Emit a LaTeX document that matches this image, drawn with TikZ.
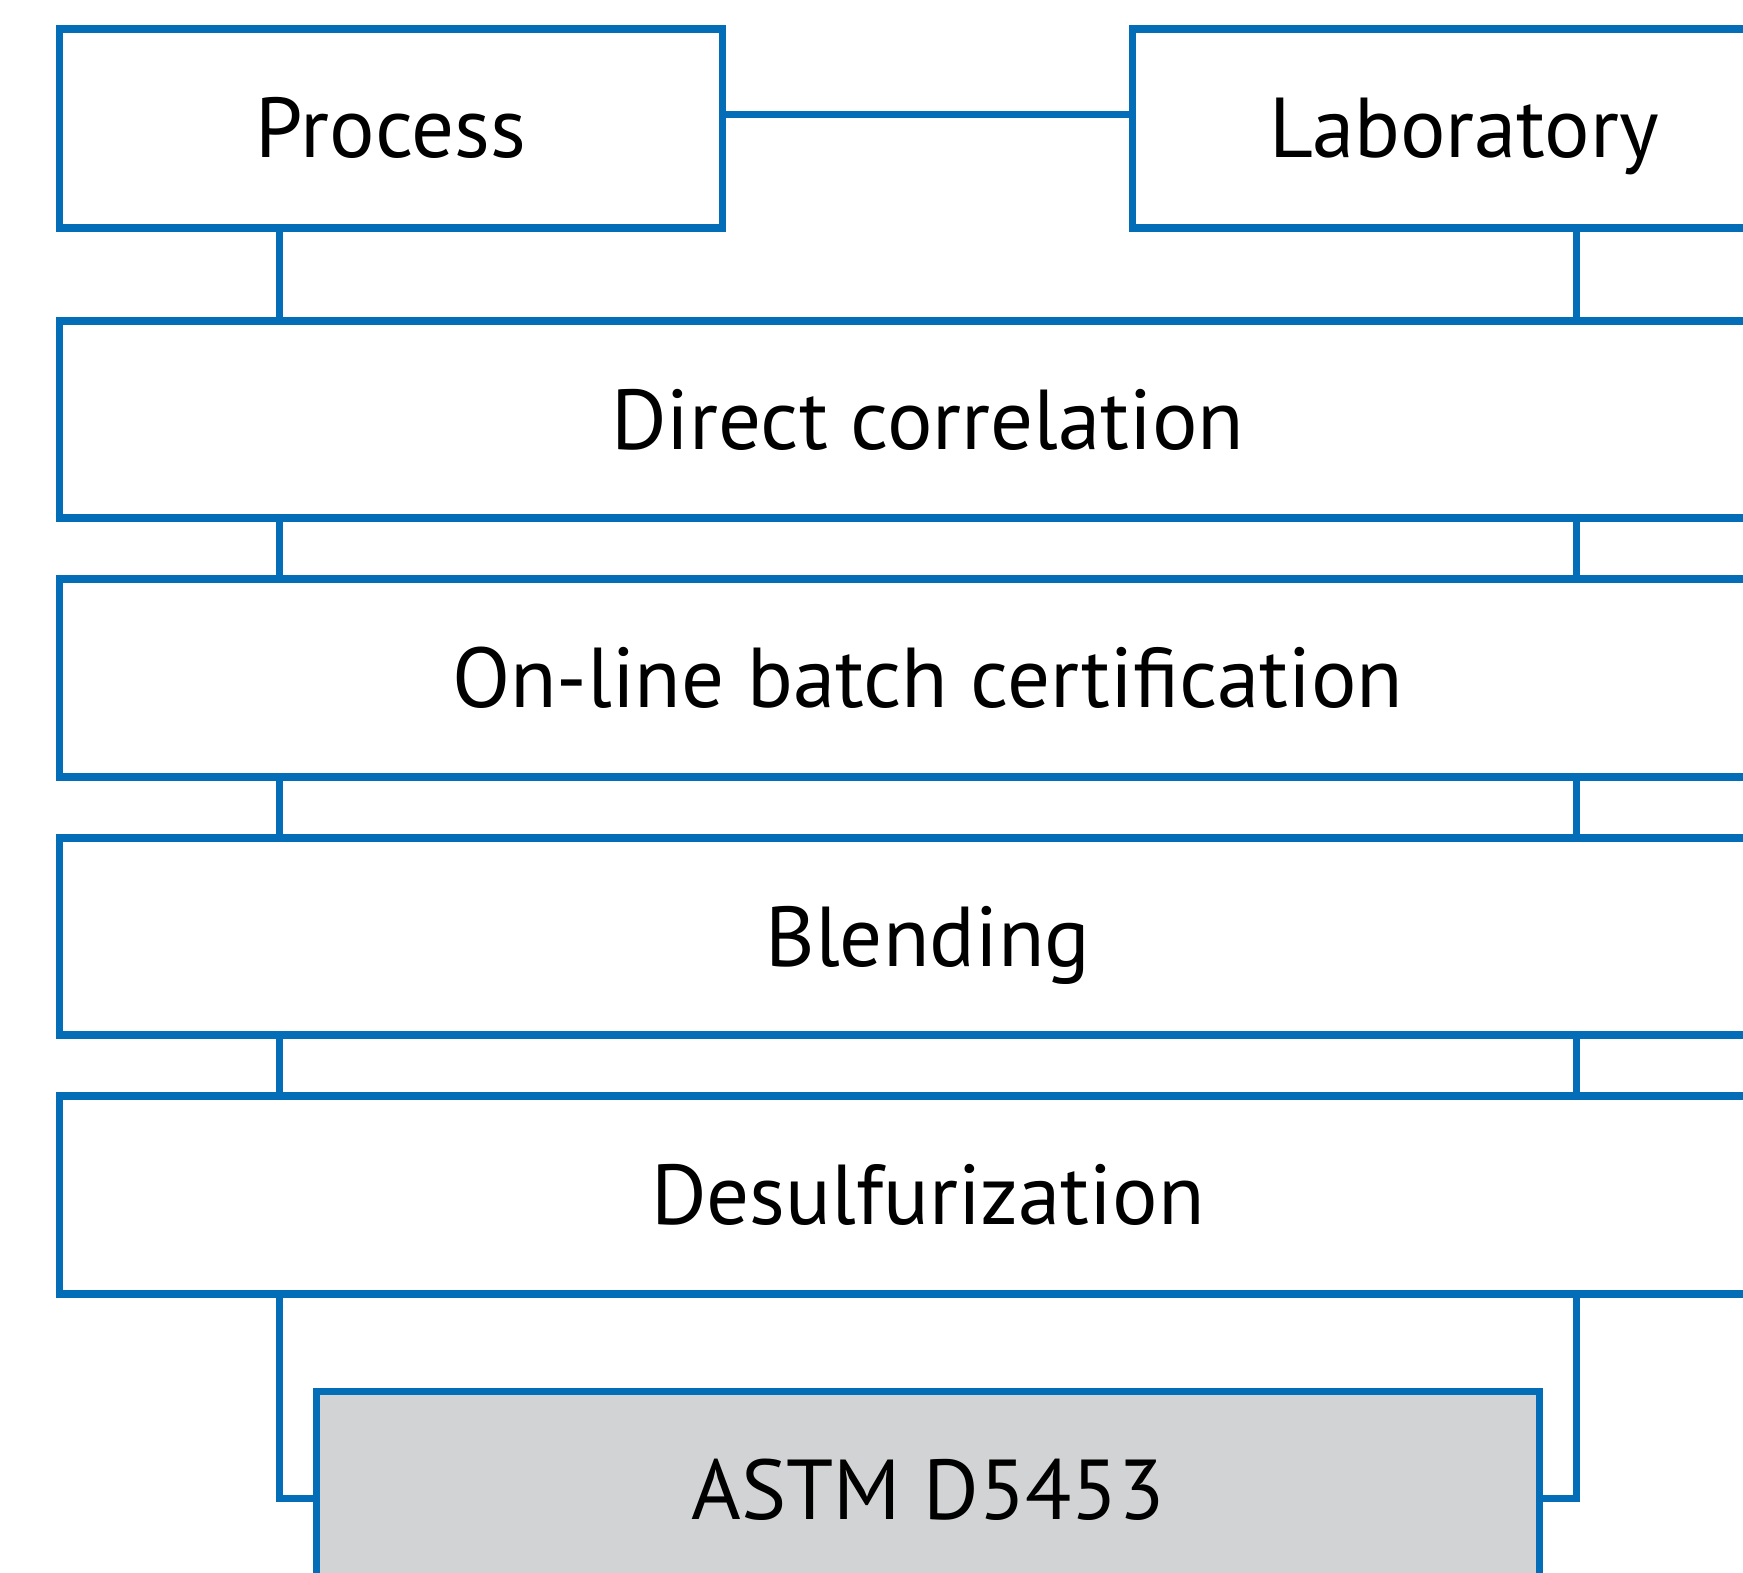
\documentclass[tikz,border=0pt]{standalone}
\usepackage{fontspec}
\setmainfont{PT Sans}
\definecolor{lineblue}{RGB}{3,110,183}
\definecolor{boxgrey}{RGB}{209,211,212}
\begin{document}
\begin{tikzpicture}[x=1pt,y=-1pt,
  boxnode/.style={draw=lineblue,line width=7.3pt,fill=white,rectangle,inner sep=0pt,outer sep=0pt,
    font=\fontsize{85}{90}\selectfont,text=black,text height=59pt,text depth=0pt},
  conn/.style={draw=lineblue,line width=7.3pt}]
\useasboundingbox (0,0) rectangle (1743,1572);
\fill[white] (0,0) rectangle (1743,1572);
\clip (0,0) rectangle (1743,1572);
\coordinate (lx) at (279.5,0);
\coordinate (rx) at (1576.3,0);
\coordinate (hy) at (0,114.5);
\coordinate (ey) at (0,1498.5);
\node[boxnode,minimum width=663pt,minimum height=199pt] (proc) at (391,128.4) {Process};
\node[boxnode,minimum width=663.3pt,minimum height=199pt] (lab) at (1464.4,128.4) {Laboratory};
\node[boxnode,minimum width=1736.5pt,minimum height=197pt] (dc) at (927.8,419.6) {Direct correlation};
\node[boxnode,minimum width=1736.5pt,minimum height=198pt] (ol) at (927.8,678) {On-line batch certification};
\node[boxnode,minimum width=1736.5pt,minimum height=197pt] (bl) at (927.8,936.5) {Blending};
\node[boxnode,minimum width=1736.5pt,minimum height=198pt] (ds) at (927.8,1195) {Desulfurization};
\node[boxnode,fill=boxgrey,minimum width=1222.8pt,minimum height=197pt] (astm) at (928.2,1490) {ASTM D5453};
\draw[conn] (proc.east |- hy) -- (lab.west |- hy);
\draw[conn] (proc.south -| lx) -- (dc.north -| lx);
\draw[conn] (lab.south -| rx) -- (dc.north -| rx);
\draw[conn] (dc.south -| lx) -- (ol.north -| lx);
\draw[conn] (dc.south -| rx) -- (ol.north -| rx);
\draw[conn] (ol.south -| lx) -- (bl.north -| lx);
\draw[conn] (ol.south -| rx) -- (bl.north -| rx);
\draw[conn] (bl.south -| lx) -- (ds.north -| lx);
\draw[conn] (bl.south -| rx) -- (ds.north -| rx);
\draw[conn] (ds.south -| lx) |- (astm.west |- ey);
\draw[conn] (ds.south -| rx) |- (astm.east |- ey);
\end{tikzpicture}
\end{document}
